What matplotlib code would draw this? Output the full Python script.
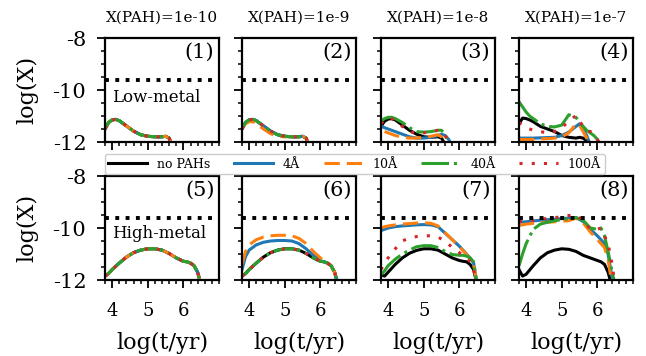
import numpy as np
import matplotlib
matplotlib.use('Agg')
import matplotlib.pyplot as plt
from matplotlib.ticker import MultipleLocator

plt.rcParams['font.family'] = ['DejaVu Serif']

# x grids (log t/yr) for the low-metal and high-metal rows
t_low = [3.8, 3.9, 4.0, 4.1, 4.2, 4.4, 4.6, 4.8, 5.0, 5.2, 5.4, 5.5, 5.6, 5.7, 5.8, 5.9, 6.0, 6.1, 6.2]
t_high = [3.8, 3.9, 4.0, 4.2, 4.4, 4.6, 4.8, 5.0, 5.2, 5.4, 5.6, 5.8, 6.0, 6.1, 6.2, 6.3, 6.4, 6.5, 6.6]
nan = np.nan

titles = ['X(PAH)=1e-10', 'X(PAH)=1e-9', 'X(PAH)=1e-8', 'X(PAH)=1e-7']
labels = ['no PAHs', '4Å', '10Å', '40Å', '100Å']
hline_y = -9.6

# low metal, panel 1..4 ; order: no PAHs, 4A, 10A, 40A, 100A
low_base = [-11.5, -11.25, -11.15, -11.13, -11.18, -11.38, -11.58, -11.72, -11.78, -11.8, -11.8, -11.78, -11.85, -12.2, nan, nan, nan, nan, nan]
low2_orange = [-11.45, -11.3, -11.22, -11.22, -11.28, -11.5, -11.68, -11.78, -11.8, -11.8, -11.8, -11.78, -11.85, -12.2, nan, nan, nan, nan, nan]
low3 = [
    [-11.4, -11.2, -11.12, -11.1, -11.15, -11.35, -11.55, -11.7, -11.8, -11.82, -11.8, -11.85, -12.1, nan, nan, nan, nan, nan, nan],
    [-11.4, -11.45, -11.5, -11.55, -11.6, -11.7, -11.8, -11.85, -11.85, -11.82, -11.75, -11.7, -11.75, -11.9, -12.2, nan, nan, nan, nan],
    [nan, -11.6, -11.65, -11.7, -11.75, -11.82, -11.85, -11.85, -11.82, -11.78, -11.72, -11.8, -12.1, nan, nan, nan, nan, nan, nan],
    [-11.2, -11.1, -11.05, -11.05, -11.1, -11.25, -11.45, -11.6, -11.62, -11.6, -11.55, -11.55, -11.7, -12.1, nan, nan, nan, nan, nan],
    [-11.3, -11.15, -11.08, -11.1, -11.2, -11.4, -11.6, -11.68, -11.65, -11.6, -11.55, -11.58, -11.75, -11.95, -12.2, nan, nan, nan, nan],
]
low4 = [
    [-11.3, -11.08, -11.1, -11.15, -11.22, -11.4, -11.5, -11.6, -11.75, -11.82, -11.85, -11.82, -11.85, -11.95, -12.2, nan, nan, nan, nan],
    [-11.85, -11.85, -11.85, -11.85, -11.85, -11.84, -11.83, -11.82, -11.75, -11.62, -11.4, -11.3, -11.5, -11.75, -12.1, nan, nan, nan, nan],
    [-11.9, -11.9, -11.9, -11.9, -11.9, -11.88, -11.87, -11.85, -11.8, -11.65, -11.3, -11.35, -11.6, -11.85, -12.1, nan, nan, nan, nan],
    [-10.45, -10.65, -10.85, -11.0, -11.1, -11.3, -11.4, -11.42, -11.35, -10.95, -11.05, -11.25, -11.4, -11.55, -11.65, -11.75, -11.9, -12.2, nan],
    [-11.25, -11.35, -11.45, -11.5, -11.55, -11.6, -11.65, -11.6, -11.45, -11.2, -10.98, -11.2, -11.4, -11.55, -11.6, -11.65, -11.9, -12.2, nan],
]

# high metal, panel 5..8
high_base = [-11.85, -11.75, -11.6, -11.35, -11.12, -10.95, -10.85, -10.8, -10.8, -10.85, -10.98, -11.15, -11.28, -11.3, -11.35, -11.45, -11.7, -12.2, nan]
high6_blue = [-11.6, -11.1, -10.85, -10.65, -10.55, -10.5, -10.48, -10.48, -10.5, -10.6, -10.8, -11.05, -11.25, -11.3, -11.35, -11.45, -11.7, -12.2, nan]
high6_orange = [-11.4, -10.9, -10.65, -10.45, -10.35, -10.3, -10.28, -10.28, -10.3, -10.4, -10.6, -10.9, -11.15, -11.25, -11.35, -11.45, -11.7, -12.2, nan]
high7 = [
    [-11.8, -11.85, -11.7, -11.4, -11.15, -10.97, -10.86, -10.8, -10.8, -10.85, -11.0, -11.15, -11.25, -11.28, -11.3, -11.4, -11.6, -12.2, nan],
    [-10.1, -10.05, -10.0, -9.95, -9.92, -9.9, -9.88, -9.87, -9.88, -9.95, -10.2, -10.45, -10.7, -10.85, -11.0, -11.15, -11.35, -12.2, nan],
    [-10.0, -9.95, -9.92, -9.88, -9.85, -9.83, -9.81, -9.8, -9.82, -9.92, -10.18, -10.45, -10.72, -10.87, -11.02, -11.18, -11.4, -12.2, nan],
    [-11.8, -11.65, -11.45, -11.2, -11.0, -10.85, -10.72, -10.68, -10.68, -10.75, -10.9, -11.02, -11.05, -11.05, -11.08, -11.15, -11.3, -12.2, nan],
    [-11.6, -11.35, -11.15, -10.8, -10.5, -10.38, -10.33, -10.3, -10.3, -10.35, -10.5, -10.75, -10.95, -11.05, -11.15, -11.3, -11.6, -12.2, nan],
]
high8 = [
    [-11.6, -11.85, -11.78, -11.45, -11.15, -10.95, -10.85, -10.8, -10.82, -10.9, -11.05, -11.15, -11.25, -11.3, -11.4, -11.7, -12.2, nan, nan],
    [-9.78, -9.77, -9.76, -9.73, -9.7, -9.68, -9.66, -9.64, -9.62, -9.6, -9.75, -10.05, -10.3, -10.45, -10.6, -11.0, -11.8, -12.2, nan],
    [-9.9, -9.88, -9.85, -9.82, -9.8, -9.78, -9.76, -9.74, -9.72, -9.62, -9.8, -10.15, -10.45, -10.6, -10.75, -11.2, -12.1, nan, nan],
    [-11.45, -11.0, -10.6, -10.05, -9.85, -9.78, -9.72, -9.68, -9.64, -9.6, -9.7, -10.0, -10.05, -10.0, -10.3, -10.9, -11.6, -12.2, nan],
    [-9.75, -9.74, -9.72, -9.7, -9.67, -9.63, -9.6, -9.57, -9.52, -9.5, -9.7, -10.05, -10.05, -10.0, -10.3, -10.6, -11.3, -12.2, nan],
]

colors = ['black', '#1f77b4', '#ff7f0e', '#2ca02c', '#d62728']
dashes = [None, None, (5, 2.3), (9, 1.6, 1, 1.6), (1, 3)]
lw = 2.2

panels = [
    (t_low, [low_base] * 5),
    (t_low, [low_base, low_base, low2_orange, low_base, low_base]),
    (t_low, low3),
    (t_low, low4),
    (t_high, [high_base] * 5),
    (t_high, [high_base, high6_blue, high6_orange, high_base, high_base]),
    (t_high, high7),
    (t_high, high8),
]

fig = plt.figure(figsize=(6.46, 3.56), dpi=100)
W, H = 646., 356.
lefts = [105, 242, 381, 519]
tops = [38, 176]
aw, ah = 114, 104

axes = []
for i, (t, ys) in enumerate(panels):
    r, c = divmod(i, 4)
    ax = fig.add_axes([lefts[c] / W, 1 - (tops[r] + ah) / H, aw / W, ah / H])
    axes.append(ax)
    handles = []
    for k in range(5):
        line, = ax.plot(t, ys[k], color=colors[k], lw=lw, label=labels[k])
        if dashes[k] is not None:
            line.set_dashes(dashes[k])
        handles.append(line)
    ax.axhline(hline_y, color='black', ls=':', lw=2.8)
    ax.set_xlim(3.8, 7.0)
    ax.set_ylim(-12, -8)
    ax.set_xticks([4, 5, 6])
    ax.xaxis.set_minor_locator(MultipleLocator(0.2))
    ax.set_yticks([-12, -10, -8])
    ax.yaxis.set_minor_locator(MultipleLocator(0.5))
    ax.tick_params(which='major', length=5.5, width=1.3, direction='out')
    ax.tick_params(which='minor', length=3, width=1.1, direction='out')
    ax.tick_params(axis='y', which='major', pad=8)
    ax.tick_params(axis='x', which='major', pad=10)
    for s in ax.spines.values():
        s.set_linewidth(1.6)
    if c == 0:
        ax.set_yticklabels(['-12', '-10', '-8'], fontsize=15)
        ax.set_ylabel('log(X)', fontsize=16, labelpad=10)
    else:
        ax.set_yticklabels([])
    if r == 1:
        ax.set_xticklabels(['4', '5', '6'], fontsize=13)
        ax.set_xlabel('log(t/yr)', fontsize=16, labelpad=9)
    else:
        ax.set_xticklabels([])
        ax.set_title(titles[c], fontsize=11, pad=12)
    ax.text(0.96, 0.95, '(%d)' % (i + 1), transform=ax.transAxes,
            ha='right', va='top', fontsize=15)

axes[0].text(0.06, 0.385, 'Low-metal', transform=axes[0].transAxes, fontsize=12)
axes[4].text(0.06, 0.40, 'High-metal', transform=axes[4].transAxes, fontsize=12)

fig.legend(handles, labels, loc='center', bbox_to_anchor=(0.549, 0.539),
           ncol=5, fontsize=9, handlelength=3.1, columnspacing=1.9,
           borderpad=0.3, handletextpad=0.8, framealpha=1, edgecolor='#cccccc')

plt.savefig('out.png', dpi=100)
